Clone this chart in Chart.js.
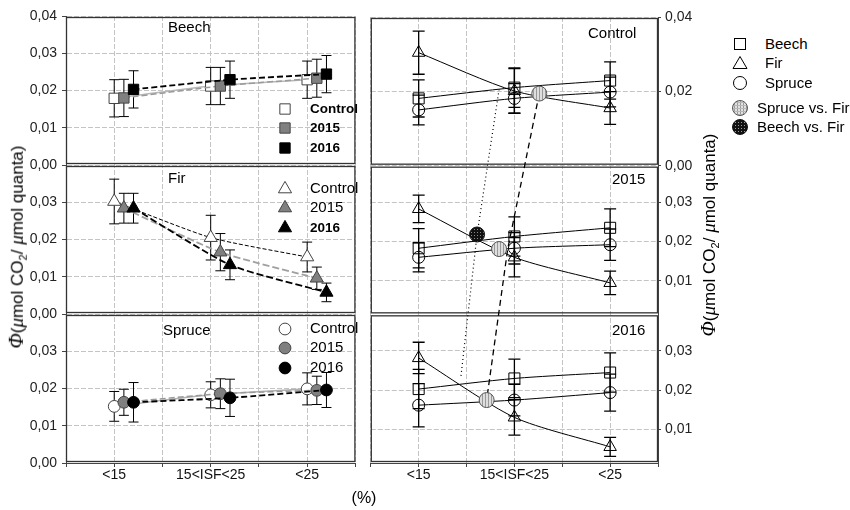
<!DOCTYPE html>
<html>
<head>
<meta charset="utf-8">
<title>Quantum yield by ISF class</title>
<script src="https://cdn.jsdelivr.net/npm/chart.js@4.4.1/dist/chart.umd.min.js"></script>
<style>
  body { margin: 0; background: #fff; font-family: "Liberation Sans", Arial, sans-serif; color: #000; }
  #wrap { position: relative; width: 850px; height: 510px; overflow: hidden; }
  canvas { position: absolute; top: 0; }
  #leftChart { left: 0; }
  #rightChart { left: 362px; }
  .ytitle { position: absolute; white-space: nowrap; font-size: 17px; transform: translate(-50%, -50%) rotate(-90deg); }
  .ytitle .phi { font-family: "Liberation Serif", "DejaVu Serif", serif; font-style: italic; font-size: 20px; }
  .ytitle .mu { font-family: "Liberation Serif", "DejaVu Serif", serif; font-style: italic; font-size: 19px; }
  .ytitle sub { font-size: 11px; }
  #xtitle { position: absolute; left: 364px; top: 498px; transform: translate(-50%, -50%); font-size: 16px; }
  .leg { position: absolute; left: 731px; height: 18px; width: 120px; font-size: 15px; line-height: 18px; white-space: nowrap; }
  .leg svg { position: absolute; left: 0; top: 0; }
  .leg span { position: absolute; top: 0; }
</style>
</head>
<body>
<div id="wrap">
  <canvas id="leftChart" width="364" height="492"></canvas>
  <canvas id="rightChart" width="340" height="492"></canvas>
  <div class="ytitle" style="left:17px;top:247px"><span class="phi">Φ</span>(<span class="mu">μ</span>mol CO<sub>2</sub>/ <span class="mu">μ</span>mol quanta)</div>
  <div class="ytitle" style="left:709px;top:235px"><span class="phi">Φ</span>(<span class="mu">μ</span>mol CO<sub>2</sub>/ <span class="mu">μ</span>mol quanta)</div>
  <div id="xtitle">(%)</div>

  <svg width="0" height="0" style="position:absolute">
    <defs>
      <pattern id="hatch" width="3" height="3" patternUnits="userSpaceOnUse">
        <rect width="3" height="3" fill="#e2e2e2"/><rect width="1" height="3" fill="#9a9a9a"/><rect width="3" height="1" fill="#b8b8b8"/>
      </pattern>
      <pattern id="dots" width="3" height="3" patternUnits="userSpaceOnUse">
        <rect width="3" height="3" fill="#111"/><rect x="1" y="1" width="1" height="1" fill="#999"/>
      </pattern>
    </defs>
  </svg>
  <div class="leg" style="top:35px"><svg width="18" height="18"><rect x="3.5" y="3.5" width="11" height="11" fill="none" stroke="#000"/></svg><span style="left:34px">Beech</span></div>
  <div class="leg" style="top:54px"><svg width="18" height="18"><polygon points="9,2.5 16,14.5 2,14.5" fill="none" stroke="#000"/></svg><span style="left:34px">Fir</span></div>
  <div class="leg" style="top:74px"><svg width="18" height="18"><circle cx="9" cy="9" r="6.5" fill="none" stroke="#000"/></svg><span style="left:34px">Spruce</span></div>
  <div class="leg" style="top:99px"><svg width="18" height="18"><circle cx="9" cy="9" r="7.5" fill="url(#hatch)" stroke="#555"/></svg><span style="left:26px">Spruce vs. Fir</span></div>
  <div class="leg" style="top:118px"><svg width="18" height="18"><circle cx="9" cy="9" r="7.5" fill="url(#dots)" stroke="#111"/></svg><span style="left:26px">Beech vs. Fir</span></div>
</div>

<script>
// ---- data ----
const categories = ['<15', '15<ISF<25', '<25'];
const years = ['Control', '2015', '2016'];
const speciesNames = ['Beech', 'Fir', 'Spruce'];

// left column: one panel per species, one series per year
const beechControl = [0.0179, 0.0212, 0.0229];
const beech2015    = [0.0180, 0.0212, 0.0233];
const beech2016    = [0.0203, 0.0229, 0.0244];
const beechControlErr = [0.0050, 0.0050, 0.0050];
const beech2015Err    = [0.0050, 0.0050, 0.0051];
const beech2016Err    = [0.0050, 0.0050, 0.0050];

const firControl = [0.0302, 0.0205, 0.0153];
const fir2015    = [0.0284, 0.0166, 0.0096];
const fir2016    = [0.0284, 0.0132, 0.0058];
const firControlErr = [0.0060, 0.0060, 0.0040];
const fir2015Err    = [0.0040, 0.0050, 0.0030];
const fir2016Err    = [0.0040, 0.0040, 0.0025];

const spruceControl = [0.0152, 0.0183, 0.0199];
const spruce2015    = [0.0163, 0.0186, 0.0195];
const spruce2016    = [0.0163, 0.0175, 0.0196];
const spruceControlErr = [0.0040, 0.0035, 0.0043];
const spruce2015Err    = [0.0035, 0.0040, 0.0038];
const spruce2016Err    = [0.0053, 0.0050, 0.0047];

// right column: one panel per year, one series per species
const controlBeech  = [0.0181, 0.0210, 0.0229];
const controlFir    = [0.0304, 0.0201, 0.0155];
const controlSpruce = [0.0150, 0.0181, 0.0198];
const controlBeechErr  = [0.0050, 0.0053, 0.0050];
const controlFirErr    = [0.0058, 0.0060, 0.0044];
const controlSpruceErr = [0.0040, 0.0040, 0.0040];

const y2015Beech  = [0.0183, 0.0213, 0.0235];
const y2015Fir    = [0.0283, 0.0160, 0.0095];
const y2015Spruce = [0.0160, 0.0183, 0.0192];
const y2015BeechErr  = [0.0050, 0.0050, 0.0048];
const y2015FirErr    = [0.0035, 0.0050, 0.0030];
const y2015SpruceErr = [0.0037, 0.0040, 0.0040];

const y2016Beech  = [0.0203, 0.0230, 0.0245];
const y2016Fir    = [0.0282, 0.0131, 0.0056];
const y2016Spruce = [0.0162, 0.0175, 0.0194];
const y2016BeechErr  = [0.0050, 0.0049, 0.0050];
const y2016FirErr    = [0.0040, 0.0045, 0.0024];
const y2016SpruceErr = [0.0055, 0.0040, 0.0047];

// crossing points (Control, 2015, 2016) and the guide lines joining them
const spruceVsFirX = [2.26, 1.84, 1.71];
const spruceVsFirY = [0.0194, 0.0181, 0.0175];
const beechVsFirX = [1.61];   // 2015 only
const beechVsFirY = [0.0218];
const spruceFirGuideX = [2.26, 1.93, 1.71];
const spruceFirGuideY = [0.0194, 0.0181, 0.0175];
const beechFirGuideX = [1.84, 1.61, 1.44];
const beechFirGuideY = [0.0205, 0.0218, 0.0232];

// ---- chart setup ----
Chart.defaults.font.family = '"Liberation Sans", Arial, sans-serif';
Chart.defaults.color = '#000';

const gridColor = '#c4c4c4';
const gridDash = [5, 2];

function fmt(v) { return v.toFixed(2).replace('.', ','); }

function yAxis(position, min, max, hideTop, width) {
  return {
    type: 'linear', position: position, stack: position, stackWeight: 1,
    min: min, max: max,
    grid: { color: gridColor, tickLength: position === 'left' ? 4 : 3, tickColor: '#444', tickBorderDash: [] },
    border: { color: '#444', dash: gridDash },
    ticks: {
      stepSize: 0.01, includeBounds: false, padding: position === 'left' ? 5 : 4,
      font: { size: 14 }, color: '#222',
      callback: v => (hideTop && v > 0.0395) ? '' : fmt(v)
    },
    afterFit: s => { s.width = width; }
  };
}

function xAxis() {
  return {
    type: 'linear', min: 0.5, max: 3.5,
    grid: { color: gridColor, tickLength: 4, tickColor: '#444', tickBorderDash: [] },
    border: { color: '#444', dash: gridDash },
    ticks: {
      stepSize: 0.5, autoSkip: false, maxRotation: 0, padding: 0,
      font: { size: 14 }, color: '#111',
      callback: v => Math.abs(v - Math.round(v)) < 1e-6 ? categories[Math.round(v) - 1] : ''
    },
    afterFit: s => { s.height = 29; }
  };
}

function pts(values, shift) {
  return values.map((v, i) => ({ x: i + 1 + shift, y: v }));
}

function drawMarker(ctx, style, x, y, r, fill, stroke) {
  ctx.beginPath();
  if (style === 'rect') {
    const h = r * Math.SQRT1_2;
    ctx.rect(x - h, y - h, 2 * h, 2 * h);
  } else if (style === 'triangle') {
    ctx.moveTo(x, y - r);
    ctx.lineTo(x + r * 0.866, y + r / 2);
    ctx.lineTo(x - r * 0.866, y + r / 2);
    ctx.closePath();
  } else {
    ctx.arc(x, y, r, 0, Math.PI * 2);
  }
  ctx.fillStyle = fill;
  ctx.fill();
  ctx.strokeStyle = stroke;
  ctx.lineWidth = 1;
  ctx.stroke();
}

// frames, error bars, guide lines, panel titles and in-panel legends
function makePanelPlugin(cfg) {
  return {
    id: 'panels',
    beforeDatasetsDraw(chart) {
      const { ctx, chartArea } = chart;
      ctx.save();
      ctx.strokeStyle = '#333';
      ctx.lineWidth = 1.3;
      cfg.axes.forEach(id => {
        const s = chart.scales[id];
        ctx.strokeRect(chartArea.left + 0.5, s.top + 1.5, chartArea.right - chartArea.left - 1, s.bottom - s.top - 3);
      });

      const xs = chart.scales.x;
      ctx.strokeStyle = '#000';
      ctx.lineWidth = cfg.errWidth;
      chart.data.datasets.forEach(ds => {
        if (!ds.errs) return;
        const ys = chart.scales[ds.yAxisID];
        ds.data.forEach((p, j) => {
          const x = xs.getPixelForValue(p.x);
          const y1 = ys.getPixelForValue(p.y + ds.errs[j]);
          const y2 = ys.getPixelForValue(p.y - ds.errs[j]);
          ctx.beginPath();
          ctx.moveTo(x, y1); ctx.lineTo(x, y2);
          ctx.moveTo(x - cfg.cap, y1); ctx.lineTo(x + cfg.cap, y1);
          ctx.moveTo(x - cfg.cap, y2); ctx.lineTo(x + cfg.cap, y2);
          ctx.stroke();
        });
      });

      (cfg.guides || []).forEach(g => {
        ctx.beginPath();
        ctx.setLineDash(g.dash);
        ctx.lineWidth = g.width;
        g.xs.forEach((xv, k) => {
          const px = xs.getPixelForValue(xv);
          const py = chart.scales[cfg.axes[k]].getPixelForValue(g.ys[k]);
          if (k === 0) ctx.moveTo(px, py); else ctx.lineTo(px, py);
        });
        ctx.stroke();
      });
      ctx.restore();
    },
    afterDraw(chart) {
      const ctx = chart.ctx;
      ctx.save();
      ctx.textBaseline = 'middle';
      ctx.textAlign = 'left';
      ctx.fillStyle = '#000';
      cfg.titles.forEach(t => {
        ctx.font = '15px "Liberation Sans", Arial, sans-serif';
        ctx.fillText(t.text, t.x, chart.scales[t.axis].top + t.dy);
      });
      (cfg.legends || []).forEach(l => {
        const top = chart.scales[l.axis].top;
        l.rows.forEach((dy, k) => {
          drawMarker(ctx, l.style, 285, top + dy, l.r, l.fills[k], l.strokes[k]);
          ctx.fillStyle = '#000';
          ctx.font = (l.bold[k] ? 'bold 13.5px' : '15px') + ' "Liberation Sans", Arial, sans-serif';
          ctx.fillText(years[k], 310, top + dy);
        });
      });
      ctx.restore();
    }
  };
}

// ---- left column ----
const yearFill = ['#ffffff', '#808080', '#000000'];
const yearStroke = ['#444444', '#444444', '#000000'];
const yearShift = [0, 0.1, 0.2];

const leftPanels = [
  { id: 'yBeech', style: 'rect', r: 7.3,
    values: [beechControl, beech2015, beech2016],
    errs: [beechControlErr, beech2015Err, beech2016Err],
    lines: [{ c: '#b8b8b8', w: 1.5, d: [] }, { c: '#9a9a9a', w: 1.5, d: [6, 3] }, { c: '#000', w: 1.8, d: [6, 3] }] },
  { id: 'yFir', style: 'triangle', r: 7.6,
    values: [firControl, fir2015, fir2016],
    errs: [firControlErr, fir2015Err, fir2016Err],
    lines: [{ c: '#000', w: 1, d: [4, 2] }, { c: '#a0a0a0', w: 1.8, d: [7, 3] }, { c: '#000', w: 1.8, d: [7, 3] }] },
  { id: 'ySpruce', style: 'circle', r: 5.9,
    values: [spruceControl, spruce2015, spruce2016],
    errs: [spruceControlErr, spruce2015Err, spruce2016Err],
    lines: [{ c: '#b0b0b0', w: 1.5, d: [] }, { c: '#9a9a9a', w: 1.5, d: [6, 3] }, { c: '#000', w: 1.8, d: [6, 3] }] }
];

const leftDatasets = [];
leftPanels.forEach((p, pi) => {
  years.forEach((yr, k) => {
    leftDatasets.push({
      label: speciesNames[pi] + ' ' + yr,
      data: pts(p.values[k], yearShift[k]),
      errs: p.errs[k],
      yAxisID: p.id,
      showLine: true,
      tension: 0.2,
      borderColor: p.lines[k].c,
      borderWidth: p.lines[k].w,
      borderDash: p.lines[k].d,
      pointStyle: p.style,
      pointRadius: p.r,
      pointBackgroundColor: yearFill[k],
      pointBorderColor: yearStroke[k],
      pointBorderWidth: 1,
      order: 2 - k
    });
  });
});

new Chart(document.getElementById('leftChart'), {
  type: 'scatter',
  data: { datasets: leftDatasets },
  options: {
    responsive: false, animation: false, events: [],
    layout: { padding: { left: 0, right: 4, top: 16, bottom: 0 } },
    scales: {
      x: xAxis(),
      ySpruce: yAxis('left', 0, 0.04, true, 66),
      yFir: yAxis('left', 0, 0.04, true, 66),
      yBeech: yAxis('left', 0, 0.04, false, 66)
    },
    plugins: { legend: { display: false }, tooltip: { enabled: false } }
  },
  plugins: [makePanelPlugin({
    axes: ['yBeech', 'yFir', 'ySpruce'],
    errWidth: 1, cap: 5,
    titles: [
      { axis: 'yBeech', text: 'Beech', x: 168, dy: 12 },
      { axis: 'yFir', text: 'Fir', x: 168, dy: 14 },
      { axis: 'ySpruce', text: 'Spruce', x: 163, dy: 17 }
    ],
    legends: [
      { axis: 'yBeech', style: 'rect', r: 7.3, rows: [93, 112, 132], bold: [true, true, true], fills: yearFill, strokes: yearStroke },
      { axis: 'yFir', style: 'triangle', r: 7.6, rows: [24, 43, 63], bold: [false, false, true], fills: yearFill, strokes: yearStroke },
      { axis: 'ySpruce', style: 'circle', r: 5.9, rows: [15, 34, 54], bold: [false, false, false], fills: yearFill, strokes: yearStroke }
    ]
  })]
});

// ---- right column ----
const rightCanvas = document.getElementById('rightChart');
const rctx = rightCanvas.getContext('2d');

function pattern(bg, fg, kind) {
  const c = document.createElement('canvas');
  c.width = 3; c.height = 3;
  const g = c.getContext('2d');
  g.fillStyle = bg; g.fillRect(0, 0, 3, 3);
  g.fillStyle = fg;
  if (kind === 'lines') { g.fillRect(0, 0, 1, 3); }
  else { g.fillRect(1, 1, 1, 1); }
  return rctx.createPattern(c, 'repeat');
}
const hatchFill = pattern('#dedede', '#999999', 'lines');
const dotFill = pattern('#111111', '#8a8a8a', 'dots');

const rightIds = ['yControl', 'y2015', 'y2016'];
const speciesStyle = [{ style: 'rect', r: 7.8 }, { style: 'triangle', r: 7.2 }, { style: 'circle', r: 6 }];
const rightPanels = [
  { values: [controlBeech, controlFir, controlSpruce], errs: [controlBeechErr, controlFirErr, controlSpruceErr] },
  { values: [y2015Beech, y2015Fir, y2015Spruce], errs: [y2015BeechErr, y2015FirErr, y2015SpruceErr] },
  { values: [y2016Beech, y2016Fir, y2016Spruce], errs: [y2016BeechErr, y2016FirErr, y2016SpruceErr] }
];

const rightDatasets = [];
rightPanels.forEach((p, pi) => {
  speciesNames.forEach((sp, k) => {
    rightDatasets.push({
      label: years[pi] + ' ' + sp,
      data: pts(p.values[k], 0),
      errs: p.errs[k],
      yAxisID: rightIds[pi],
      showLine: true,
      tension: 0.25,
      borderColor: '#000',
      borderWidth: 1,
      pointStyle: speciesStyle[k].style,
      pointRadius: speciesStyle[k].r,
      pointBackgroundColor: 'rgba(0,0,0,0)',
      pointBorderColor: '#000',
      pointBorderWidth: 1
    });
  });
  rightDatasets.push({
    label: years[pi] + ' Spruce vs. Fir',
    data: [{ x: spruceVsFirX[pi], y: spruceVsFirY[pi] }],
    yAxisID: rightIds[pi],
    showLine: false,
    pointStyle: 'circle',
    pointRadius: 7.5,
    pointBackgroundColor: hatchFill,
    pointBorderColor: '#555',
    pointBorderWidth: 1,
    order: -1
  });
});
rightDatasets.push({
  label: '2015 Beech vs. Fir',
  data: beechVsFirX.map((x, i) => ({ x: x, y: beechVsFirY[i] })),
  yAxisID: 'y2015',
  showLine: false,
  pointStyle: 'circle',
  pointRadius: 7.5,
  pointBackgroundColor: dotFill,
  pointBorderColor: '#111',
  pointBorderWidth: 1,
  order: -1
});

new Chart(rightCanvas, {
  type: 'scatter',
  data: { datasets: rightDatasets },
  options: {
    responsive: false, animation: false, events: [],
    layout: { padding: { left: 4, right: 0, top: 17, bottom: 0 } },
    scales: {
      x: xAxis(),
      yControl: yAxis('right', 0, 0.04, false, 44),
      y2015: yAxis('right', 0.0015, 0.0393, false, 44),
      y2016: yAxis('right', 0.0015, 0.0393, false, 44)
    },
    plugins: { legend: { display: false }, tooltip: { enabled: false } }
  },
  plugins: [makePanelPlugin({
    axes: rightIds,
    errWidth: 1.3, cap: 6,
    guides: [
      { xs: beechFirGuideX, ys: beechFirGuideY, dash: [1, 3], width: 1.2 },
      { xs: spruceFirGuideX, ys: spruceFirGuideY, dash: [6, 4], width: 1.3 }
    ],
    titles: [
      { axis: 'yControl', text: 'Control', x: 226, dy: 17 },
      { axis: 'y2015', text: '2015', x: 250, dy: 14 },
      { axis: 'y2016', text: '2016', x: 250, dy: 17 }
    ]
  })]
});
</script>
</body>
</html>
